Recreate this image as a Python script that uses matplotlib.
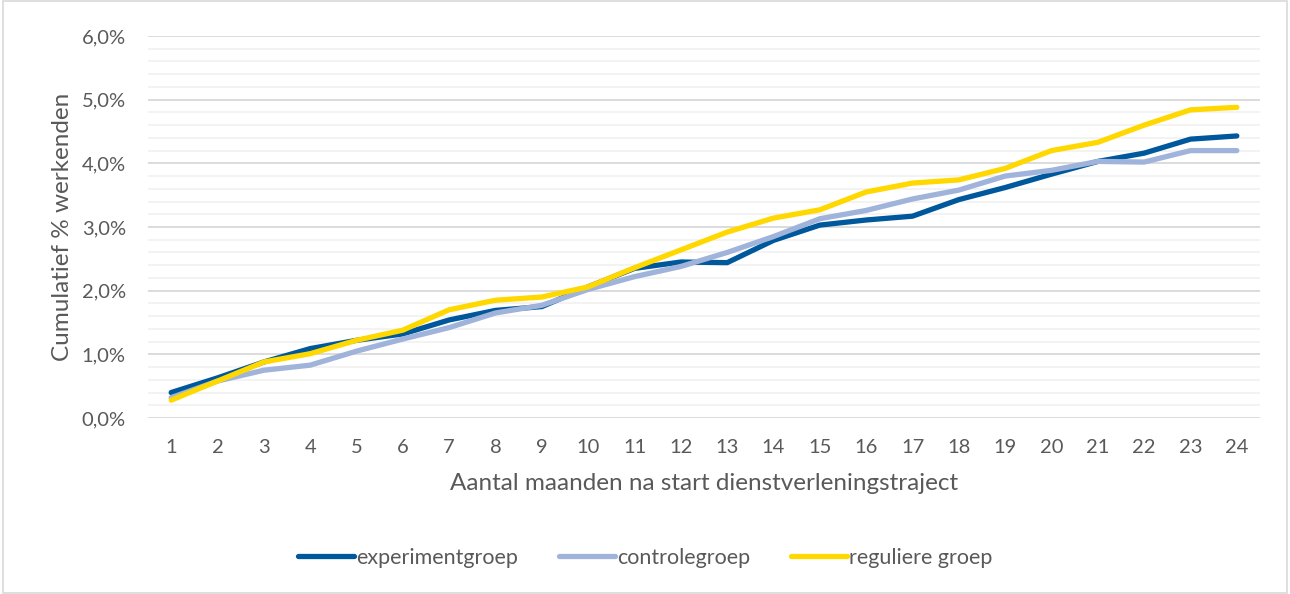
import matplotlib
matplotlib.use("Agg")
import matplotlib.pyplot as plt
from matplotlib.ticker import MultipleLocator, FuncFormatter
from matplotlib.patches import Rectangle

plt.rcParams['font.family'] = ['Lato', 'DejaVu Sans']

maanden = list(range(1, 25))
experiment = [0.40, 0.63, 0.88, 1.09, 1.22, 1.32, 1.54, 1.69, 1.75, 2.06, 2.35, 2.45,
              2.44, 2.79, 3.03, 3.11, 3.17, 3.43, 3.62, 3.83, 4.03, 4.16, 4.38, 4.43]
controle = [0.32, 0.58, 0.75, 0.83, 1.05, 1.24, 1.42, 1.65, 1.77, 2.02, 2.22, 2.38,
            2.60, 2.85, 3.13, 3.26, 3.44, 3.58, 3.80, 3.89, 4.03, 4.02, 4.20, 4.20]
regulier = [0.28, 0.58, 0.88, 1.01, 1.22, 1.38, 1.70, 1.85, 1.90, 2.06, 2.36, 2.64,
            2.92, 3.14, 3.27, 3.55, 3.69, 3.74, 3.92, 4.20, 4.33, 4.60, 4.84, 4.88]

namen = ['experimentgroep', 'controlegroep', 'reguliere groep']
kleuren = ['#00589C', '#A0B3DA', '#FFD800']
tekst = '#595959'

fig = plt.figure(figsize=(12.9, 5.94), dpi=100)
ax = fig.add_axes([148 / 1290, 1 - 418 / 594, (1260 - 148) / 1290, (418 - 36) / 594])

for waarden, naam, kleur in zip([experiment, controle, regulier], namen, kleuren):
    ax.plot(maanden, waarden, color=kleur, lw=3.8, label=naam, solid_capstyle='round')

ax.set_xlim(0.5, 24.5)
ax.set_ylim(0, 6.0)
ax.yaxis.set_major_locator(MultipleLocator(1.0))
ax.yaxis.set_minor_locator(MultipleLocator(0.2))
ax.yaxis.set_major_formatter(FuncFormatter(lambda v, p: f"{v:.1f}%".replace('.', ',')))
ax.set_xticks(maanden)
ax.grid(which='minor', axis='y', color='#F2F2F2', lw=1.3, zorder=0)
ax.grid(which='major', axis='y', color='#D9D9D9', lw=1.3, zorder=0)
ax.set_axisbelow(True)
for s in ax.spines.values():
    s.set_visible(False)
ax.tick_params(which='both', length=0, colors=tekst, labelsize=14.5)
ax.tick_params(axis='x', pad=15)
ax.tick_params(axis='y', pad=16)

ax.set_xlabel('Aantal maanden na start dienstverleningstraject', color=tekst, fontsize=17.5, labelpad=12)
ax.set_ylabel('Cumulatief % werkenden', color=tekst, fontsize=17.5, labelpad=6)

fig.legend(loc='center', bbox_to_anchor=(0.5, 1 - 558 / 594), ncol=3, frameon=False,
           fontsize=15.5, handlelength=2.6, handletextpad=0.1, columnspacing=1.9,
           labelcolor=tekst)

fig.patches.append(Rectangle((0.002, 0.002), 0.996, 0.996, transform=fig.transFigure,
                             fill=False, edgecolor='#D9D9D9', lw=1.2))

fig.savefig('out.png', dpi=100)
